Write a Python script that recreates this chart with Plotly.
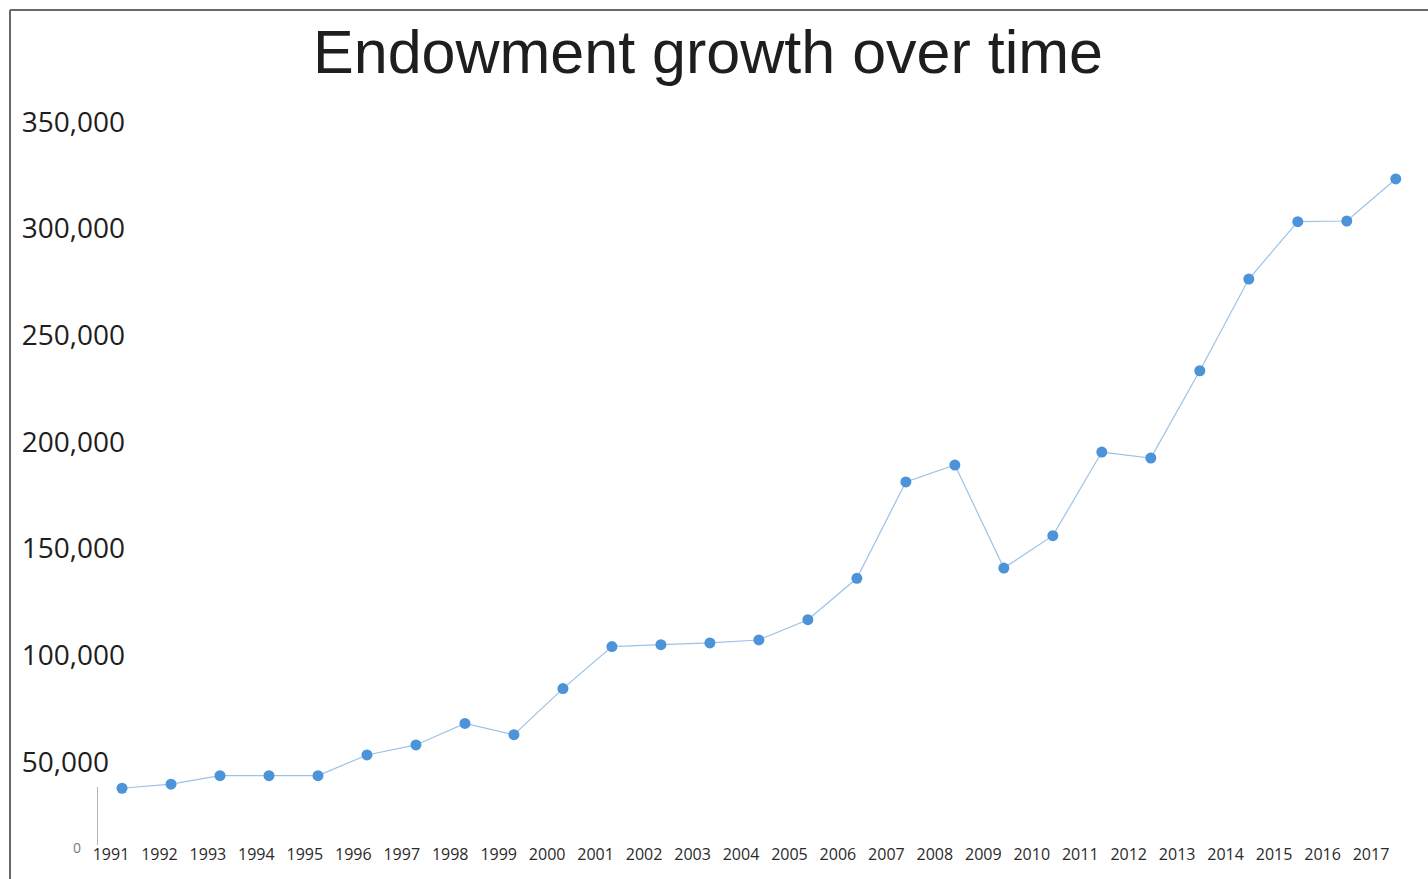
import plotly.graph_objects as go

# ---- data ----
years = [1991, 1992, 1993, 1994, 1995, 1996, 1997, 1998, 1999, 2000,
         2001, 2002, 2003, 2004, 2005, 2006, 2007, 2008, 2009, 2010,
         2011, 2012, 2013, 2014, 2015, 2016, 2017]
endowment = [37700, 39600, 43600, 43600, 43600, 53300, 58000, 68100, 62800, 84400,
             104100, 105000, 105800, 107200, 116700, 136100, 181300, 189200, 140900, 156100,
             195300, 192500, 233400, 276400, 303300, 303600, 323300]
y_ticks = [50000, 100000, 150000, 200000, 250000, 300000, 350000]
title_text = "Endowment growth over time"

W, H = 1428, 879
L, R, T, B = 16, 0, 95, 36
px_w = W - L - R
px_h = H - T - B
y_range = [12033, 362658]

# left-aligned look: pad shorter labels with a figure space (digit width)
y_ticktext = [f"{v:,}" + ("\u2007" if v < 100000 else "") for v in y_ticks]

fig = go.Figure()
fig.add_trace(go.Scatter(
    x=years, y=endowment, mode="lines+markers",
    line=dict(color="#9cc2e8", width=1.2),
    marker=dict(color="#4d93d9", size=11),
    showlegend=False, hoverinfo="x+y",
))
# helper (invisible) trace so the label axes are rendered
fig.add_trace(go.Scatter(
    x=years, y=endowment, xaxis="x2", yaxis="y2", mode="markers",
    marker=dict(opacity=0), showlegend=False, hoverinfo="skip",
))

fig.update_layout(
    width=W, height=H,
    margin=dict(l=L, r=R, t=T, b=B),
    paper_bgcolor="white", plot_bgcolor="white",
    title=dict(text=title_text, x=708 / W, xref="container",
               xanchor="center", y=1 - 52 / H, yanchor="middle",
               font=dict(family="Liberation Sans, Arial", size=61, color="#1e1e1e")),
    xaxis=dict(range=[1988.836, 2017.658], showticklabels=False, showgrid=False,
               zeroline=False, showline=False, ticks=""),
    xaxis2=dict(range=[1989.040, 2018.176], overlaying="x", side="bottom", anchor="y",
                tickmode="array", tickvals=years, ticktext=[str(y) for y in years],
                showgrid=False, zeroline=False, showline=False, ticks="",
                tickfont=dict(family="Open Sans", size=16, color="#2a2a2a")),
    yaxis=dict(range=y_range, showticklabels=False, showgrid=False,
               zeroline=False, showline=False, ticks=""),
    yaxis2=dict(range=y_range, overlaying="y", anchor="free", side="left",
                position=(125 - L) / px_w,
                tickmode="array", tickvals=y_ticks, ticktext=y_ticktext,
                showgrid=False, zeroline=False, showline=False, ticks="",
                tickfont=dict(family="Open Sans", size=28, color="#1e1e1e")),
)

# small "0" label and short axis stub
fig.add_annotation(text="0", xref="paper", yref="paper", x=(71 - L) / px_w,
                   y=(H - B - 859) / px_h, showarrow=False,
                   font=dict(family="Open Sans", size=14, color="#6b7b90"))
fig.add_shape(type="line", xref="x", yref="paper", x0=1990.5, x1=1990.5,
              y0=(H - B - 845) / px_h, y1=(H - B - 787) / px_h,
              line=dict(color="#aab7c6", width=1))

# frame lines (left and top)
fx = (10 - L) / px_w
fy_top = (H - B - 10) / px_h
fy_bot = (H - B - H) / px_h
fig.add_shape(type="line", xref="paper", yref="paper", x0=fx, x1=fx, y0=fy_bot, y1=fy_top,
              line=dict(color="#6a6a6a", width=2))
fig.add_shape(type="line", xref="paper", yref="paper", x0=fx, x1=1.0, y0=fy_top, y1=fy_top,
              line=dict(color="#6a6a6a", width=2))

fig.write_html("out.html")
